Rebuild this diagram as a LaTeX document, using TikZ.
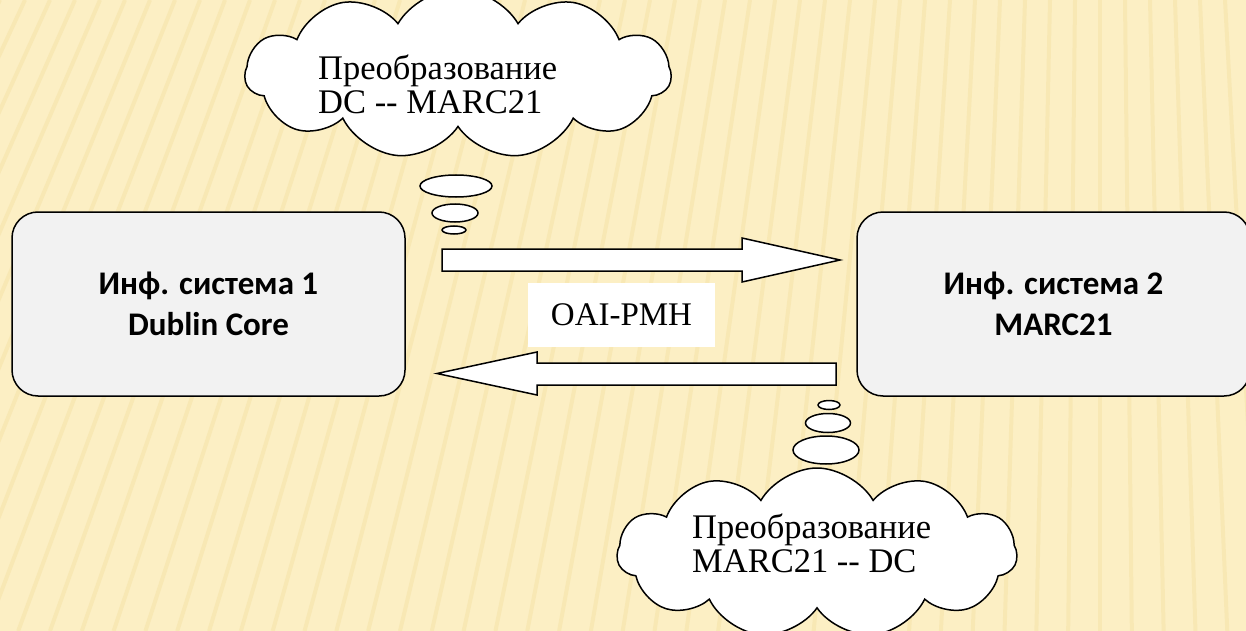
\documentclass[tikz,border=0pt]{standalone}
\usepackage{fontspec}
\setmainfont{Liberation Serif}
\newfontfamily\boxfont{Carlito}
\usetikzlibrary{shapes.geometric,shapes.symbols}

\definecolor{bgyellow}{HTML}{FCEFC4}
\definecolor{stripecol}{HTML}{EFD891}
\definecolor{boxgray}{HTML}{F2F2F2}

\tikzset{
  sysbox/.style={draw,line width=1.5pt,fill=boxgray,rounded corners=26pt,
    minimum width=393pt,minimum height=184pt,align=center,
    font=\boxfont\bfseries\fontsize{33}{41}\selectfont},
  thought/.style={cloud,draw,line width=1.5pt,fill=white,cloud puffs=11,
    cloud puff arc=120,cloud ignores aspect,inner sep=0pt},
  bubble/.style={ellipse,draw,line width=1.5pt,fill=white,inner sep=0pt},
  cloudtext/.style={align=left,anchor=west,inner sep=0pt,
    font=\fontsize{34.5}{34}\selectfont},
  blockarrow/.style={draw,line width=1.5pt,fill=white,line join=miter},
  stripe/.style={line width=4pt,color=stripecol,opacity=.3}
}

\begin{document}
\begin{tikzpicture}[x=1pt,y=-1pt]
  \useasboundingbox (0,0) rectangle (1246,631);
  % background
  \begin{scope}
    \clip (0,0) rectangle (1246,631);
    \fill[bgyellow] (0,0) rectangle (1246,631);
    \foreach \x in {-325,-300,...,1250}{%
      \draw[stripe] (\x,0) -- ({\x-300*(1-\x/1100)},631);
    }
  \end{scope}

  % systems
  \node[sysbox] (sys1) at (208.5,304) {Инф. система 1\\Dublin Core};
  \node[sysbox] (sys2) at (1053.5,304) {Инф. система 2\\MARC21};

  % block arrows
  \draw[blockarrow] (442,249) -- (742,249) -- (742,238) -- (840,260)
    -- (742,282) -- (742,271) -- (442,271) -- cycle;
  \draw[blockarrow] (836,363) -- (537,363) -- (537,352) -- (437,373.5)
    -- (537,395) -- (537,385) -- (836,385) -- cycle;
  \node[fill=white,minimum width=187pt,minimum height=64pt,
    font=\fontsize{33}{36}\selectfont] (oai) at (621.5,315) {OAI-PMH};

  % top thought
  \node[thought,minimum width=426pt,minimum height=170pt] (cloud1) at (458,74) {};
  \node[cloudtext] (txt1) at (318,84) {Преобразование\\DC -{}- MARC21};
  \node[bubble,minimum width=72pt,minimum height=22pt] (b11) at (456,186) {};
  \node[bubble,minimum width=46pt,minimum height=18pt] (b12) at (455,213) {};
  \node[bubble,minimum width=24pt,minimum height=8pt] (b13) at (454,230) {};

  % bottom thought
  \node[bubble,minimum width=22pt,minimum height=9pt] (b21) at (829,405) {};
  \node[bubble,minimum width=45pt,minimum height=19pt] (b22) at (828,423) {};
  \node[bubble,minimum width=66pt,minimum height=28pt] (b23) at (826,450) {};
  \node[thought,minimum width=400pt,minimum height=170pt] (cloud2) at (817,553) {};
  \node[cloudtext] (txt2) at (692,543) {Преобразование\\MARC21 -{}- DC};
\end{tikzpicture}
\end{document}
